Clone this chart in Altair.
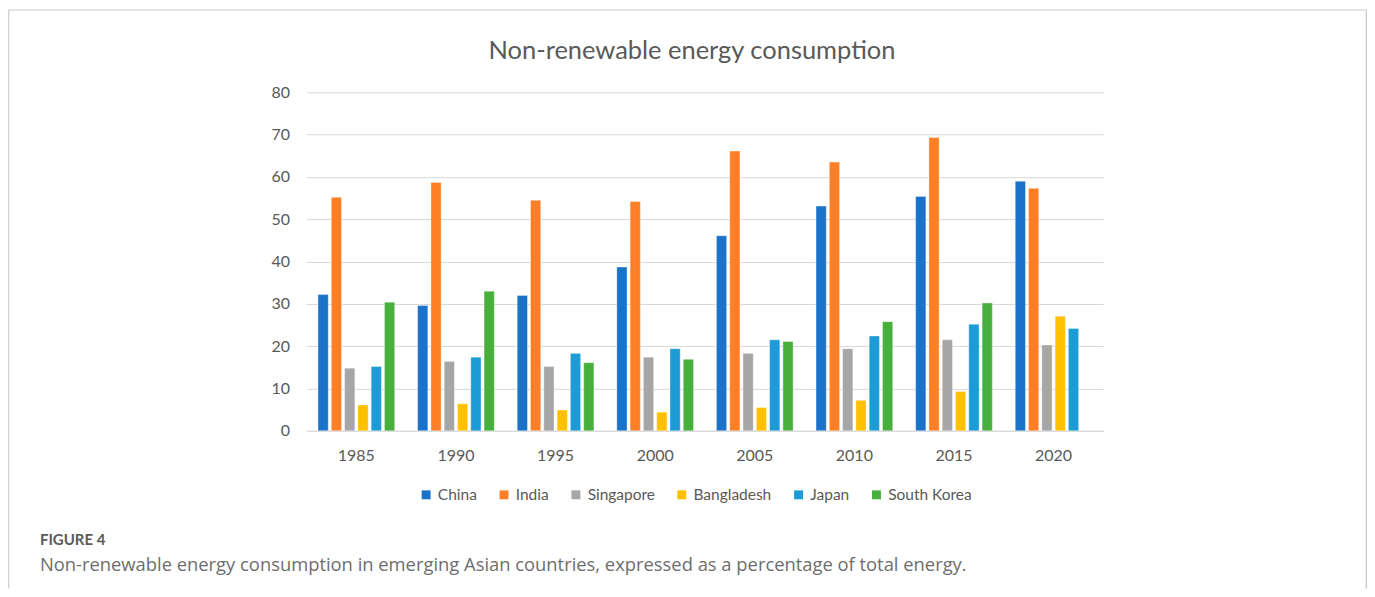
import altair as alt
import pandas as pd

years = ["1985", "1990", "1995", "2000", "2005", "2010", "2015", "2020"]
countries = ["China", "India", "Singapore", "Bangladesh", "Japan", "South Korea"]
china = [32.2, 29.6, 32.0, 38.7, 46.1, 53.1, 55.4, 59.0]
india = [55.2, 58.7, 54.5, 54.2, 66.1, 63.5, 69.3, 57.3]
singapore = [14.8, 16.4, 15.2, 17.4, 18.3, 19.4, 21.5, 20.3]
bangladesh = [6.1, 6.4, 4.9, 4.4, 5.5, 7.2, 9.3, 27.1]
japan = [15.2, 17.4, 18.3, 19.4, 21.5, 22.4, 25.2, 24.2]
south_korea = [30.4, 33.0, 16.1, 16.9, 21.1, 25.8, 30.2, None]
colors = ["#1A73C8", "#FF7F27", "#A6A6A6", "#FFC000", "#1C9BD7", "#47AF3C"]

title_text = "Non-renewable energy consumption"
fig_label = "FIGURE 4"
caption = "Non-renewable energy consumption in emerging Asian countries, expressed as a percentage of total energy."

series = [china, india, singapore, bangladesh, japan, south_korea]
rows = []
for c, vals in zip(countries, series):
    for y, v in zip(years, vals):
        if v is not None:
            rows.append({"year": y, "country": c, "value": v})
df = pd.DataFrame(rows)
one = pd.DataFrame({"a": [0]})

W, H = 798, 339
PL, PT, PR, PB = 299, 84, 264, 158

bars = alt.Chart(df).mark_bar(stroke="#ffffff", strokeWidth=0.6, strokeOpacity=0.6).encode(
    x=alt.X("year:N", sort=years, title=None,
            scale=alt.Scale(paddingInner=0.23, paddingOuter=0.115),
            axis=alt.Axis(labelAngle=0, ticks=False, domain=True, domainColor="#D9D9D9",
                          domainWidth=1.2, labelFont="Lato", labelFontSize=16,
                          labelColor="#595959", labelPadding=17, grid=False)),
    xOffset=alt.XOffset("country:N", sort=countries,
                        scale=alt.Scale(paddingInner=0.23, paddingOuter=0)),
    y=alt.Y("value:Q", title=None,
            scale=alt.Scale(domain=[0, 80], nice=False),
            axis=alt.Axis(values=[0, 10, 20, 30, 40, 50, 60, 70, 80], ticks=False,
                          domain=False, gridColor="#D9D9D9", gridWidth=1,
                          labelFont="Lato", labelFontSize=16, labelColor="#595959",
                          labelPadding=17)),
    color=alt.Color("country:N", sort=countries,
                    scale=alt.Scale(domain=countries, range=colors),
                    legend=alt.Legend(title=None, orient="none", direction="horizontal",
                                      legendX=112, legendY=395, symbolType="square",
                                      symbolSize=80, symbolStrokeWidth=0,
                                      labelFont="Lato", labelFontSize=15.5,
                                      labelColor="#595959", columnPadding=19,
                                      labelOffset=4)),
)

title = alt.Chart(one).mark_text(font="Lato", fontSize=25.5, color="#595959",
                                 align="center", baseline="middle").encode(
    x=alt.value(386), y=alt.value(-41), text=alt.value(title_text))

fig = alt.Chart(one).mark_text(font="Lato", fontSize=15, fontWeight="bold", color="#5A5A5A",
                               align="left", baseline="middle").encode(
    x=alt.value(-267), y=alt.value(448), text=alt.value(fig_label))

cap = alt.Chart(one).mark_text(font="Open Sans", fontSize=18.4, color="#6E6E6E",
                               align="left", baseline="middle").encode(
    x=alt.value(-267), y=alt.value(473.5), text=alt.value(caption))

border_top = alt.Chart(one).mark_rule(color="#DADADA", strokeWidth=1.5).encode(
    x=alt.value(-298.5), x2=alt.value(1061.5), y=alt.value(-82.5))
border_left = alt.Chart(one).mark_rule(color="#D0D0D0", strokeWidth=1.5).encode(
    x=alt.value(-298.5), y=alt.value(-82.5), y2=alt.value(H + PB))
border_right = alt.Chart(one).mark_rule(color="#C8C8C8", strokeWidth=1.5).encode(
    x=alt.value(1061.5), y=alt.value(-82.5), y2=alt.value(H + PB))

chart = alt.layer(bars, title, fig, cap, border_top, border_left, border_right).properties(
    width=W, height=H,
    autosize=alt.AutoSizeParams(type="none"),
    padding={"left": PL, "top": PT, "right": PR, "bottom": PB},
).configure_view(stroke=None)

chart.save("out.html", embed_options={"renderer": "svg", "actions": False})
